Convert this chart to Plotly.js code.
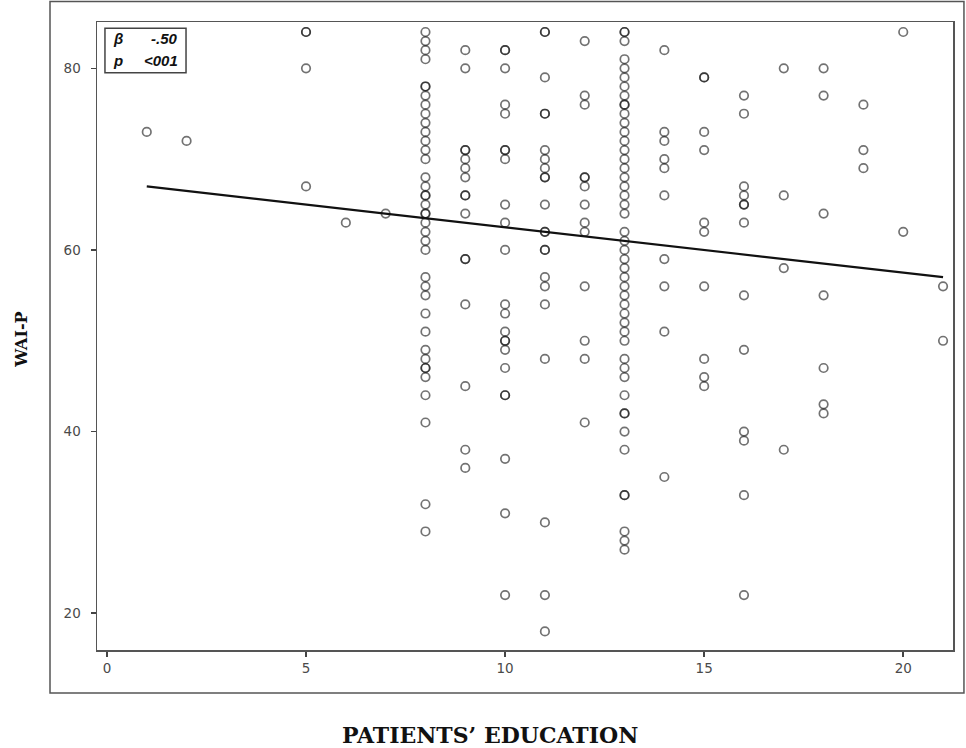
<!DOCTYPE html>
<html>
<head>
<meta charset="utf-8">
<script src="https://cdn.plot.ly/plotly-3.0.1.min.js"></script>
<style>
  html, body { margin: 0; padding: 0; background: #fff; }
  #chart { width: 966px; height: 748px; }
</style>
</head>
<body>
<div id="chart"></div>
<script>
// Education levels (years) and the WAI-P scores observed at each level
const educationLevels = [1, 2, 5, 6, 7, 8, 9, 10, 11, 12, 13, 14, 15, 16, 17, 18, 19, 20, 21];
const waiScores = [
  [73],
  [72],
  [84, 84, 80, 67],
  [63],
  [64],
  [84, 83, 82, 81, 78, 78, 77, 76, 75, 74, 73, 72, 71, 70, 68, 67, 66, 66, 65, 64, 64, 63, 62, 61, 60, 57, 56, 55, 53, 51, 49, 48, 47, 47, 46, 44, 41, 32, 29],
  [82, 80, 71, 71, 70, 69, 68, 66, 66, 64, 59, 59, 54, 45, 38, 36],
  [82, 82, 80, 76, 75, 71, 71, 70, 65, 63, 60, 54, 53, 51, 50, 50, 49, 47, 44, 44, 37, 31, 22],
  [84, 84, 79, 75, 75, 71, 70, 69, 68, 68, 65, 62, 62, 60, 60, 57, 56, 54, 48, 30, 22, 18],
  [83, 77, 76, 68, 68, 67, 65, 63, 62, 56, 50, 48, 41],
  [84, 84, 83, 81, 80, 79, 78, 77, 76, 76, 75, 74, 73, 72, 71, 70, 69, 68, 67, 66, 65, 64, 62, 61, 60, 59, 58, 57, 56, 55, 54, 53, 52, 51, 50, 48, 47, 46, 44, 42, 42, 40, 38, 33, 33, 29, 28, 27],
  [82, 73, 72, 70, 69, 66, 59, 56, 51, 35],
  [79, 79, 73, 71, 63, 62, 56, 48, 46, 45],
  [77, 75, 67, 66, 65, 65, 63, 55, 49, 40, 39, 33, 22],
  [80, 66, 58, 38],
  [80, 77, 64, 55, 47, 43, 42],
  [76, 71, 69],
  [84, 62],
  [56, 50]
];
// Fitted regression line end points
const fitEducation = [1, 21];
const fitWAI = [67.0, 57.0];
const xTicks = [0, 5, 10, 15, 20];
const yTicks = [20, 40, 60, 80];

const xs = [], ys = [];
educationLevels.forEach((e, i) => {
  waiScores[i].forEach(v => { xs.push(e); ys.push(v); });
});

const scatter = {
  type: 'scatter', mode: 'markers', x: xs, y: ys,
  marker: { symbol: 'circle-open', size: 8.5, color: 'rgba(20,20,20,0.6)', line: { width: 1.7 } },
  hoverinfo: 'x+y', showlegend: false
};
const fit = {
  type: 'scatter', mode: 'lines', x: fitEducation, y: fitWAI,
  line: { color: '#111', width: 2.2 }, showlegend: false
};

const axisCommon = {
  showgrid: false, zeroline: false, showline: true, mirror: true,
  linecolor: '#555', linewidth: 1.5, ticks: 'outside', ticklen: 5, tickwidth: 1.5,
  tickcolor: '#444', tickfont: { family: 'DejaVu Sans, Verdana, sans-serif', size: 13.5, color: '#4a4a4a' }
};

const layout = {
  width: 966, height: 748,
  margin: { l: 97, r: 13, t: 22, b: 98 },
  paper_bgcolor: '#fff', plot_bgcolor: '#fff',
  xaxis: Object.assign({}, axisCommon, { range: [-0.25, 21.25], tickvals: xTicks, ticktext: xTicks.map(String) }),
  yaxis: Object.assign({}, axisCommon, { range: [15.95, 85.1], tickvals: yTicks, ticktext: yTicks.map(String), ticklabelstandoff: 7 }),
  shapes: [
    { type: 'rect', xref: 'paper', yref: 'paper', x0: -0.0549, x1: 1.0128, y0: -0.0685, y1: 1.0326,
      line: { color: '#555', width: 1.5 }, fillcolor: 'rgba(0,0,0,0)', layer: 'below' },
    { type: 'rect', xref: 'paper', yref: 'paper', x0: 0.0093, x1: 0.104, y0: 0.919, y1: 0.990,
      line: { color: '#444', width: 1.5 }, fillcolor: '#fff' }
  ],
  annotations: [
    { xref: 'paper', yref: 'paper', x: 0.0165, y: 0.973, xanchor: 'left', yanchor: 'middle', showarrow: false,
      text: '<b><i>β</i></b>', font: { family: 'Liberation Sans, Arial, sans-serif', size: 15, color: '#111' } },
    { xref: 'paper', yref: 'paper', x: 0.0975, y: 0.973, xanchor: 'right', yanchor: 'middle', showarrow: false,
      text: '<b><i>-.50</i></b>', font: { family: 'Liberation Sans, Arial, sans-serif', size: 15, color: '#111' } },
    { xref: 'paper', yref: 'paper', x: 0.0165, y: 0.938, xanchor: 'left', yanchor: 'middle', showarrow: false,
      text: '<b><i>p</i></b>', font: { family: 'Liberation Sans, Arial, sans-serif', size: 15, color: '#111' } },
    { xref: 'paper', yref: 'paper', x: 0.0975, y: 0.938, xanchor: 'right', yanchor: 'middle', showarrow: false,
      text: '<b><i>&lt;001</i></b>', font: { family: 'Liberation Sans, Arial, sans-serif', size: 15, color: '#111' } },
    { xref: 'paper', yref: 'paper', x: -0.0875, y: 0.494, xanchor: 'center', yanchor: 'middle', showarrow: false,
      textangle: -90, text: '<b>WAI-P</b>', font: { family: 'DejaVu Serif, Liberation Serif, serif', size: 16, color: '#111' } },
    { xref: 'paper', yref: 'paper', x: 0.459, y: -0.135, xanchor: 'center', yanchor: 'middle', showarrow: false,
      text: '<b>PATIENTS’ EDUCATION</b>', font: { family: 'DejaVu Serif, Liberation Serif, serif', size: 22, color: '#111' } }
  ]
};

Plotly.newPlot('chart', [scatter, fit], layout, { displayModeBar: false, staticPlot: true });
</script>
</body>
</html>
